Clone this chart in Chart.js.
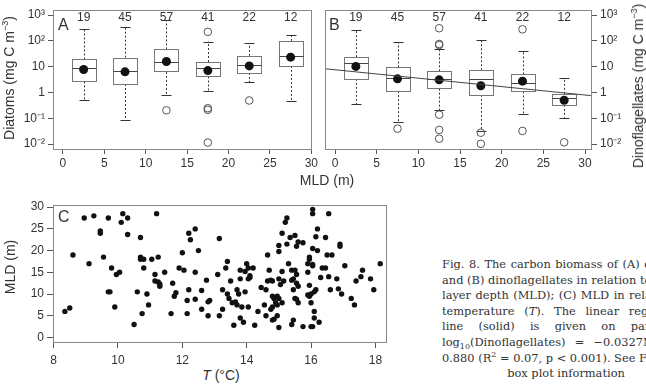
<!DOCTYPE html>
<html>
<head>
<meta charset="utf-8">
<script src="https://cdn.jsdelivr.net/npm/chart.js@4"></script>
<style>
  body { margin: 0; background: #fff; }
  #wrap { position: relative; width: 646px; height: 384px; overflow: hidden;
          font-family: "Liberation Sans", Arial, sans-serif; color: #333; }
  canvas { position: absolute; }
  sup, sub { line-height: 0; }
  .t { position: absolute; font-size: 14px; white-space: nowrap; color: #333; }
  .rot { transform: translate(-50%, -50%) rotate(-90deg); }
  .ctr { transform: translate(-50%, -50%); }
  .cap { position: absolute; left: 442px; top: 257px; width: 248px;
         font-family: "DejaVu Serif", "Liberation Serif", serif;
         font-size: 11.4px; line-height: 15.6px; color: #333; }
  .cap div { white-space: nowrap; text-align: justify; text-align-last: justify; height: 15.6px; }
  .cap div.last { text-align: center; text-align-last: center; }
</style>
</head>
<body>
<div id="wrap">
  <canvas id="chartA" width="320" height="175" style="left:0;top:0"></canvas>
  <canvas id="chartB" width="326" height="175" style="left:320px;top:0"></canvas>
  <canvas id="chartC" width="400" height="170" style="left:0;top:195px"></canvas>

  <div class="t rot" style="left:9px;top:78px">Diatoms (mg C m<sup style="font-size:9px">−3</sup>)</div>
  <div class="t rot" style="left:638px;top:86px">Dinoflagellates (mg C m<sup style="font-size:9px">−3</sup>)</div>
  <div class="t ctr" style="left:327px;top:180px">MLD (m)</div>
  <div class="t rot" style="left:10px;top:267px">MLD (m)</div>
  <div class="t ctr" style="left:221px;top:375px"><i>T</i> (°C)</div>

  <div class="cap">
    <div>Fig. 8. The carbon biomass of (A) diatoms</div>
    <div>and (B) dinoflagellates in relation to mixed</div>
    <div>layer depth (MLD); (C) MLD in relation to</div>
    <div>temperature (<i>T</i>). The linear regression</div>
    <div>line (solid) is given on panel B:</div>
    <div>log<sub style="font-size:8px">10</sub>(Dinoflagellates) = −0.0327MLD +</div>
    <div>0.880 (R<sup style="font-size:8px">2</sup> = 0.07, p &lt; 0.001). See Fig. 3 for</div>
    <div class="last">box plot information</div>
  </div>
</div>

<script>
// MLD bins (box centres) and sample counts
const mldBins = [2.5, 7.5, 12.5, 17.5, 22.5, 27.5];
const nPerBin = [19, 45, 57, 41, 22, 12];

// diatoms, log10(mg C m-3)
const diaWhiskLo = [-0.31, -1.08, -0.10, 0.05, 0.39, -0.33];
const diaQ1      = [0.43, 0.33, 0.80, 0.62, 0.76, 1.03];
const diaMed     = [0.94, 0.82, 1.17, 0.94, 1.05, 1.43];
const diaQ3      = [1.28, 1.35, 1.67, 1.18, 1.42, 2.00];
const diaWhiskHi = [2.47, 2.53, 2.81, 1.97, 1.91, 2.24];
const diaMean    = [0.89, 0.80, 1.20, 0.85, 1.03, 1.37];
const diaOutX    = [12.5, 17.5, 17.5, 17.5, 17.5, 22.5];
const diaOutY    = [-0.69, 2.35, -0.61, -0.67, -1.94, -0.31];

// dinoflagellates, log10(mg C m-3)
const dinWhiskLo = [-0.45, -1.13, -0.69, -1.48, -0.83, -0.98];
const dinQ1      = [0.53, 0.05, 0.15, -0.09, 0.04, -0.48];
const dinMed     = [1.13, 0.56, 0.54, 0.51, 0.38, -0.20];
const dinQ3      = [1.37, 0.97, 0.82, 0.86, 0.70, -0.05];
const dinWhiskHi = [2.42, 1.94, 1.68, 2.05, 1.59, 0.56];
const dinMean    = [1.01, 0.53, 0.49, 0.26, 0.44, -0.30];
const dinOutX    = [7.5, 12.5, 12.5, 12.5, 12.5, 12.5, 12.5, 17.5, 17.5, 22.5, 22.5, 27.5];
const dinOutY    = [-1.40, 2.49, 1.88, 1.84, -0.86, -1.45, -1.79, -1.56, -1.99, 2.45, -1.49, -1.93];

// regression line end points (panel B)
const regX = [-1.2, 30.7];
const regY = [0.92, -0.12];

// panel C: temperature vs MLD
const tempC = [8.35, 8.5, 8.6, 8.95, 9.25, 9.1, 9.45, 9.45, 9.55, 9.7, 9.7, 9.75, 9.8, 9.9, 9.95,
  10.05, 10.1, 10.15, 10.3, 10.3, 10.5, 10.6, 10.7, 10.7, 10.7, 10.8, 10.75, 10.8, 10.9, 10.95,
  11.05, 11.15, 11.15, 11.25, 11.3, 11.3, 11.2, 11.25, 11.45, 11.65, 11.7, 11.75, 11.8, 11.9,
  12.0, 12.05, 12.15, 12.15, 12.2, 12.2, 12.25, 12.4, 12.4, 12.4, 12.5, 12.6, 12.6, 12.75, 12.8,
  12.85, 12.8, 13.1, 13.15, 13.15, 13.25, 13.25, 13.35, 13.4, 13.4, 13.45, 13.5, 13.55, 13.6,
  13.65, 13.7, 13.7, 13.75, 13.8, 13.8, 13.8, 13.85, 13.9, 13.95, 13.95, 14.0, 14.05, 14.05,
  14.1, 14.1, 14.05, 14.2, 14.25, 14.35, 14.45, 14.55, 14.6, 14.6, 14.65, 14.65, 14.7, 14.75,
  14.8, 14.75, 14.8, 14.8, 14.85, 14.8, 14.85, 14.9, 14.95, 14.95, 15.0, 15.0, 14.95, 15.0, 15.0,
  15.0, 15.05, 15.1, 15.1, 15.1, 15.15, 15.2, 15.25, 15.25, 15.3, 15.35, 15.4, 15.4, 15.45,
  15.4, 15.45, 15.45, 15.5, 15.5, 15.55, 15.5, 15.55, 15.55, 15.6, 15.55, 15.6, 15.6, 15.75,
  15.75, 15.9, 15.9, 15.95, 15.95, 15.9, 15.95, 15.95, 16.0, 16.0, 16.05, 16.0, 16.05, 16.05,
  16.05, 16.05, 16.05, 16.1, 16.1, 16.1, 16.15, 16.15, 16.2, 16.2, 16.25, 16.3, 16.35, 16.45,
  16.45, 16.5, 16.55, 16.55, 16.6, 16.65, 16.8, 16.85, 16.9, 16.9, 16.95, 17.05, 17.25, 17.35,
  17.4, 17.55, 17.6, 17.85, 17.95, 18.15];
const mldC = [6.0, 6.8, 19, 27.5, 28, 17, 24.5, 24, 18.5, 27.5, 10.5, 10.5, 16, 7, 14.5,
  15, 26.5, 28.5, 27.5, 23.7, 3, 10.5, 23, 18.5, 18, 18, 5.5, 16, 10, 7.5,
  18, 14.5, 13, 12.8, 12.3, 11.8, 28.5, 18.5, 15, 5.5, 12.5, 9.5, 10.3, 16,
  19.5, 15.5, 8.5, 5.5, 11, 24, 22.5, 25, 15, 8.8, 20, 10.8, 6.5, 13.2, 8.2,
  8.5, 5, 14.5, 22.8, 5, 11, 6.5, 16, 17.5, 10, 9.0, 13, 8, 2.8,
  8.2, 7.5, 11, 10, 15.5, 13.5, 4.5, 7, 3.5, 15.2, 10.5, 17, 16, 13.5,
  14.2, 13.8, 7, 16, 2.8, 6, 11.5, 7.5, 11, 5, 19, 13, 15.5, 13.2,
  13.0, 6.5, 7, 9.5, 9, 4.0, 4.2, 8, 7.5, 9.5, 9.0, 2.3, 5, 21.2, 19.8,
  13.5, 12.2, 24, 15.2, 8, 13, 26.5, 27.5, 21.5, 17, 23, 15.5, 13.2, 13.5,
  3, 4, 11, 23.5, 9, 8.8, 15.5, 14.5, 21, 22, 12.5, 11.8, 8, 21.8,
  2.5, 15, 17, 18.5, 18, 9.8, 9.5, 12, 10, 2.5, 2.5, 8, 16.5, 16.8,
  20.5, 29.5, 28.5, 6, 10.5, 4.5, 23.2, 11, 25, 20, 3.5, 13.8, 16, 16,
  23, 19, 28.5, 14, 11, 19, 13.5, 11.2, 21.5, 21, 10, 16.5, 9, 7.5,
  13, 14, 15.5, 13.5, 11, 17];

// axis ticks
const mldTicks = [0, 5, 10, 15, 20, 25, 30];
const logTicks = [-2, -1, 0, 1, 2, 3];
const tTicks = [8, 10, 12, 14, 16, 18];
const mldYTicks = [0, 5, 10, 15, 20, 25, 30];

const SUP = { '-': '⁻', '1': '¹', '2': '²', '3': '³' };
function logLabel(v) {
  if (v === 0) return '1';
  if (v === 1) return '10';
  return '10' + String(v).split('').map(c => SUP[c]).join('');
}

const FONT = '"Liberation Sans", Arial, sans-serif';
Chart.defaults.font.family = FONT;
Chart.defaults.color = '#333';

// frame, boxes, counts and panel letter
const panelPlugin = {
  id: 'panel',
  beforeDatasetsDraw(chart, args, o) {
    const { ctx } = chart;
    const x = chart.scales.x, y = chart.scales.y;
    ctx.save();
    if (o.med) {
      const half = 12, cap = 5;
      o.centers.forEach((c, i) => {
        const px = Math.round(x.getPixelForValue(c)) + 0.5;
        const yLo = y.getPixelForValue(o.wLo[i]), yHi = y.getPixelForValue(o.wHi[i]);
        const yQ1 = y.getPixelForValue(o.q1[i]), yQ3 = y.getPixelForValue(o.q3[i]);
        const yMd = y.getPixelForValue(o.med[i]);
        // whiskers
        ctx.strokeStyle = '#333';
        ctx.lineWidth = 1;
        ctx.setLineDash([2, 2]);
        ctx.beginPath();
        ctx.moveTo(px, yQ3); ctx.lineTo(px, yHi);
        ctx.moveTo(px, yQ1); ctx.lineTo(px, yLo);
        ctx.stroke();
        ctx.setLineDash([]);
        ctx.beginPath();
        ctx.moveTo(px - cap, Math.round(yHi) + 0.5); ctx.lineTo(px + cap, Math.round(yHi) + 0.5);
        ctx.moveTo(px - cap, Math.round(yLo) + 0.5); ctx.lineTo(px + cap, Math.round(yLo) + 0.5);
        ctx.stroke();
        // box
        ctx.fillStyle = '#fff';
        ctx.fillRect(px - half, yQ3, half * 2, yQ1 - yQ3);
        ctx.strokeStyle = '#777';
        ctx.strokeRect(px - half, Math.round(yQ3) + 0.5, half * 2, Math.round(yQ1 - yQ3));
        ctx.strokeStyle = '#444';
        ctx.beginPath();
        ctx.moveTo(px - half, Math.round(yMd) + 0.5); ctx.lineTo(px + half, Math.round(yMd) + 0.5);
        ctx.stroke();
      });
    }
    ctx.restore();
  },
  afterDraw(chart, args, o) {
    const { ctx, chartArea: a } = chart;
    ctx.save();
    ctx.strokeStyle = '#888';
    ctx.lineWidth = 1;
    ctx.strokeRect(Math.round(a.left) + 0.5, Math.round(a.top) + 0.5,
      Math.round(a.right - a.left), Math.round(a.bottom - a.top));
    ctx.fillStyle = '#333';
    if (o.counts) {
      ctx.font = '12px ' + FONT;
      ctx.textAlign = 'center';
      ctx.textBaseline = 'alphabetic';
      o.centers.forEach((c, i) => {
        ctx.fillText(String(o.counts[i]), chart.scales.x.getPixelForValue(c), a.top + 11);
      });
    }
    ctx.font = '16px ' + FONT;
    ctx.textAlign = 'left';
    ctx.textBaseline = 'alphabetic';
    ctx.fillText(o.letter, a.left + o.lx, a.top + o.ly);
    ctx.restore();
  }
};

function xAxis(min, max, ticks, h, tl, pad) {
  return {
    type: 'linear', min, max,
    afterBuildTicks: s => { s.ticks = ticks.map(v => ({ value: v })); },
    grid: { drawOnChartArea: false, drawTicks: true, tickLength: tl, color: '#555' },
    border: { display: false },
    ticks: { font: { size: 12 }, color: '#333', padding: pad, maxRotation: 0, autoSkip: false },
    afterFit: s => { s.height = h; }
  };
}
function yAxis(min, max, ticks, w, pos, cb, tl) {
  return {
    type: 'linear', min, max, position: pos,
    afterBuildTicks: s => { s.ticks = ticks.map(v => ({ value: v })); },
    grid: { drawOnChartArea: false, drawTicks: true, tickLength: tl, color: '#555' },
    border: { display: false },
    ticks: { font: { size: 12 }, color: '#333', padding: 3, autoSkip: false, callback: cb },
    afterFit: s => { s.width = w; }
  };
}

const common = {
  responsive: false,
  animation: false,
  events: [],
  plugins: { legend: { display: false }, tooltip: { enabled: false } }
};

function meanSet(means) {
  return {
    type: 'scatter',
    data: mldBins.map((x, i) => ({ x, y: means[i] })),
    pointRadius: 4.5, pointBackgroundColor: '#111', pointBorderWidth: 0
  };
}
function outSet(xs, ys) {
  return {
    type: 'scatter',
    data: xs.map((x, i) => ({ x, y: ys[i] })),
    pointRadius: 3.8, pointBackgroundColor: 'rgba(0,0,0,0)', pointBorderColor: '#555', pointBorderWidth: 1
  };
}

// Panel A
new Chart(document.getElementById('chartA'), {
  type: 'scatter',
  data: { datasets: [meanSet(diaMean), outSet(diaOutX, diaOutY)] },
  options: {
    ...common,
    layout: { padding: { top: 5, right: 7, left: 0, bottom: 0 } },
    scales: {
      x: xAxis(-1.2, 30, mldTicks, 26, 5, 2),
      y: yAxis(-2.19, 3.19, logTicks, 53, 'left', v => logLabel(v), 5)
    },
    plugins: {
      ...common.plugins,
      panel: { centers: mldBins, counts: nPerBin, letter: 'A', lx: 5, ly: 20,
        wLo: diaWhiskLo, q1: diaQ1, med: diaMed, q3: diaQ3, wHi: diaWhiskHi }
    }
  },
  plugins: [panelPlugin]
});

// Panel B
new Chart(document.getElementById('chartB'), {
  type: 'scatter',
  data: {
    datasets: [
      { type: 'line', data: regX.map((x, i) => ({ x, y: regY[i] })),
        borderColor: '#444', borderWidth: 1, pointRadius: 0 },
      meanSet(dinMean),
      outSet(dinOutX, dinOutY)
    ]
  },
  options: {
    ...common,
    layout: { padding: { top: 5, right: 0, left: 5, bottom: 0 } },
    scales: {
      x: xAxis(-1.2, 30.72, mldTicks, 26, 5, 2),
      y: yAxis(-2.19, 3.19, logTicks, 55, 'right', v => logLabel(v), 6)
    },
    plugins: {
      ...common.plugins,
      panel: { centers: mldBins, counts: nPerBin, letter: 'B', lx: 4, ly: 20,
        wLo: dinWhiskLo, q1: dinQ1, med: dinMed, q3: dinQ3, wHi: dinWhiskHi }
    }
  },
  plugins: [panelPlugin]
});

// Panel C
new Chart(document.getElementById('chartC'), {
  type: 'scatter',
  data: {
    datasets: [{
      data: tempC.map((t, i) => ({ x: t, y: mldC[i] })),
      pointRadius: 2.7, pointBackgroundColor: '#111', pointBorderWidth: 0
    }]
  },
  options: {
    ...common,
    layout: { padding: { top: 8, right: 14, left: 0, bottom: 0 } },
    scales: {
      x: xAxis(7.98, 18.33, tTicks, 23, 6, 5),
      y: yAxis(-1.04, 30.45, mldYTicks, 53, 'left', v => String(v), 6)
    },
    plugins: {
      ...common.plugins,
      panel: { letter: 'C', lx: 5, ly: 17 }
    }
  },
  plugins: [panelPlugin]
});
</script>
</body>
</html>
